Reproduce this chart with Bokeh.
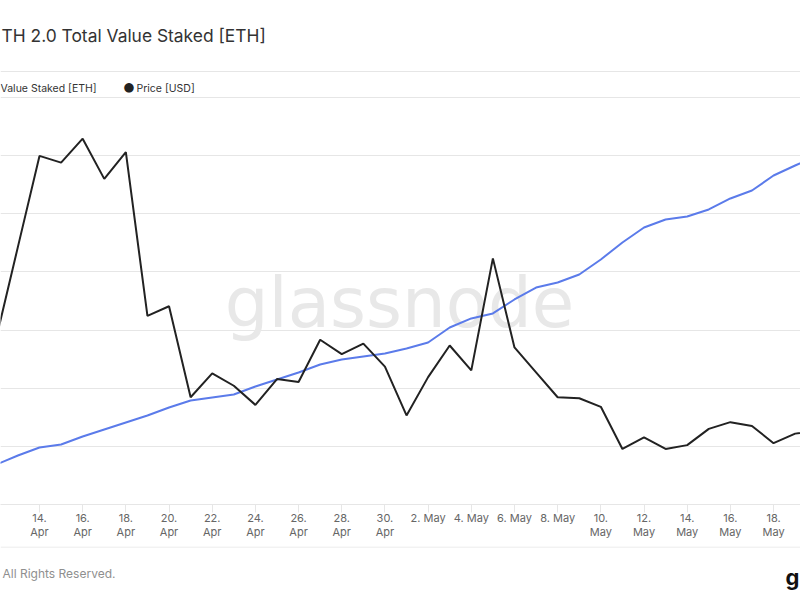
import pandas as pd
from bokeh.plotting import figure
from bokeh.layouts import column
from bokeh.models import Range1d, FixedTicker, SingleIntervalTicker, Label, Span
from bokeh.embed import file_html
from bokeh.resources import INLINE

# ---------------- data ----------------
dates = pd.date_range("2023-04-12", "2023-05-20", freq="D")

staked_eth_m = [
    17.844, 17.921, 17.990, 18.016, 18.085, 18.145, 18.205, 18.265, 18.334, 18.394,
    18.420, 18.446, 18.515, 18.575, 18.635, 18.704, 18.747, 18.773, 18.799,
    18.842, 18.893, 19.022, 19.100, 19.143, 19.263, 19.366, 19.409, 19.478, 19.607,
    19.753, 19.882, 19.951, 19.977, 20.037, 20.132, 20.200, 20.329, 20.415, 20.501,
]

price_usd = [
    1914, 2009, 2104, 2097, 2122, 2080, 2108, 1937, 1947, 1852,
    1877, 1864, 1844, 1871, 1868, 1912, 1897, 1908, 1884,
    1833, 1873, 1906, 1880, 1997, 1904, 1878, 1852, 1851, 1842,
    1798, 1810, 1798, 1802, 1819, 1826, 1822, 1804, 1814, 1817,
]

tick_dates = pd.date_range("2023-04-12", "2023-05-20", freq="2D")
tick_labels = [
    "12.\nApr", "14.\nApr", "16.\nApr", "18.\nApr", "20.\nApr", "22.\nApr",
    "24.\nApr", "26.\nApr", "28.\nApr", "30.\nApr",
    "2. May", "4. May", "6. May", "8. May",
    "10.\nMay", "12.\nMay", "14.\nMay", "16.\nMay", "18.\nMay", "20.\nMay",
]

title_text = "TH 2.0 Total Value Staked [ETH]"
legend_staked = "Value Staked [ETH]"
legend_price = "Price [USD]"
footer_text = "All Rights Reserved."
watermark_text = "glassnode"

# ---------------- helpers ----------------
def ms(ts):
    return ts.timestamp() * 1000.0

DAY = 86400000.0
T0 = ms(pd.Timestamp("2023-04-12"))
FONT = "Inter"
GRID = "#e6e6e6"
W = 800


def blank(h):
    f = figure(width=W, height=h, x_range=Range1d(0, W), y_range=Range1d(0, h),
               x_axis_location=None, y_axis_location=None,
               min_border=0, min_border_left=0, min_border_right=0,
               min_border_top=0, min_border_bottom=0,
               output_backend="svg", toolbar_location=None)
    f.outline_line_color = None
    f.xgrid.visible = False
    f.ygrid.visible = False
    return f

# ---------------- header ----------------
head = blank(96)
head.add_layout(Label(x=1, y=61, text=title_text, text_font=FONT, text_font_size="17.4px",
                      text_color="#333333", text_baseline="middle"))
head.add_layout(Span(location=25, dimension="width", line_color=GRID, line_width=1))
head.add_layout(Label(x=0, y=8, text=legend_staked, text_font=FONT, text_font_size="10.5px",
                      text_color="#333333", text_baseline="middle"))
head.add_layout(Label(x=128.5, y=10, text="\u25cf", text_font="DejaVu Sans", text_font_size="12.5px",
                      text_color="#222222", text_baseline="middle", text_align="center"))
head.add_layout(Label(x=136, y=8, text=legend_price, text_font=FONT, text_font_size="10.5px",
                      text_color="#333333", text_baseline="middle"))

# ---------------- main chart ----------------
p = figure(
    x_axis_type="datetime", y_axis_location=None,
    width=W, height=450,
    min_border_left=0, min_border_right=0, min_border_top=0, min_border_bottom=42,
    x_range=Range1d(T0 + 0.194 * DAY, T0 + 37.248 * DAY),
    y_range=Range1d(17.5, 21.0086),
    output_backend="svg", toolbar_location=None,
)
p.outline_line_color = None
p.extra_y_ranges = {"price": Range1d(1740, 2166.04)}

p.xgrid.visible = False
p.ygrid.ticker = SingleIntervalTicker(interval=0.5)
p.ygrid.grid_line_color = GRID

xa = p.xaxis[0]
tick_ms = [ms(t) for t in tick_dates]
xa.ticker = FixedTicker(ticks=tick_ms)
xa.major_label_overrides = {t: l for t, l in zip(tick_ms, tick_labels)}
xa.axis_line_color = GRID
xa.major_tick_line_color = GRID
xa.major_tick_in = 0
xa.major_tick_out = 8
xa.minor_tick_line_color = None
xa.major_label_text_font = FONT
xa.major_label_text_font_size = "11px"
xa.major_label_text_color = "#666666"
xa.major_label_text_line_height = 1.0
xa.major_label_standoff = -2

p.add_layout(Label(x=T0 + 18.674 * DAY, y=19.237, text=watermark_text,
                   text_font="DejaVu Sans", text_font_size="69px", text_color="#e8e8e8",
                   text_align="center", text_baseline="alphabetic", level="underlay"))

p.line(dates, staked_eth_m, line_color="#5b7bea", line_width=2)
p.line(dates, price_usd, y_range_name="price", line_color="#222222", line_width=2)

# ---------------- footer ----------------
foot = blank(54)
foot.add_layout(Span(location=53.5, dimension="width", line_color=GRID, line_width=1))
foot.add_layout(Label(x=2, y=27, text=footer_text, text_font=FONT, text_font_size="12px",
                      text_color="#8f8f8f", text_baseline="middle"))
foot.add_layout(Label(x=799, y=24, text="g", text_font=FONT, text_font_size="22px",
                      text_font_style="bold", text_color="#111111", text_baseline="middle",
                      text_align="right"))

layout = column(head, p, foot, spacing=0)
open("out.html", "w").write(file_html(layout, INLINE))
